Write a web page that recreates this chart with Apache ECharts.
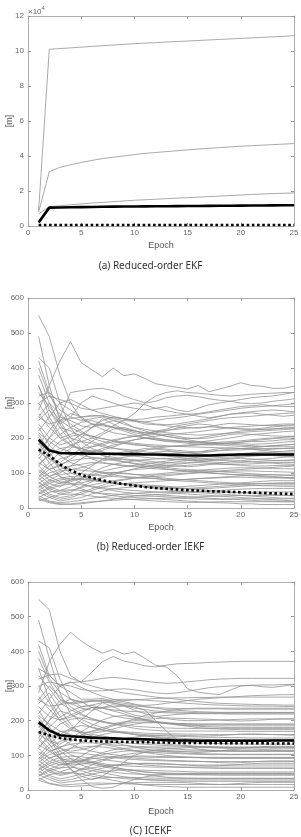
<!DOCTYPE html>
<html>
<head>
<meta charset="utf-8">
<title>Position error per epoch</title>
<script src="https://cdn.jsdelivr.net/npm/echarts@6/dist/echarts.min.js"></script>
<style>html,body{margin:0;padding:0;background:#fff;}</style>
</head>
<body>
<div id="main" style="width:301px;height:837px;"></div>
<script>
var epochs = [1,2,3,4,5,6,7,8,9,10,11,12,13,14,15,16,17,18,19,20,21,22,23,24,25];

// (a) reduced-order EKF, metres
var ekfRuns = [
  [9000,101000,101400,101800,102200,102600,103000,103400,103800,104200,104500,104800,105100,105400,105700,106000,106300,106600,106900,107200,107500,107800,108100,108400,108700],
  [8000,31000,33500,35000,36300,37500,38500,39300,40000,40800,41500,42000,42500,43000,43500,44000,44400,44800,45200,45600,45900,46200,46500,46800,47100],
  [7000,11000,11600,12100,12600,13100,13500,13900,14300,14700,15000,15300,15600,15900,16200,16500,16800,17100,17400,17700,18000,18300,18500,18700,18900]
];
var ekfMean = [2000,10500,10600,10700,10800,10900,11000,11050,11100,11150,11200,11250,11300,11350,11400,11450,11500,11550,11600,11650,11700,11750,11800,11850,11900];
var ekfMedian = [600,600,600,600,600,600,600,600,600,600,600,600,600,600,600,600,600,600,600,600,600,600,600,600,600];

// (b) reduced-order IEKF
var iekfRuns = [
  [550,490,380,300,255,240,235,230,225,220,215,218,222,225,228,230,232,230,228,226,225,224,226,228,230],
  [280,350,420,475,415,395,375,400,378,383,370,355,350,345,340,350,332,340,348,358,350,348,342,342,348],
  [490,350,250,200,170,160,150,145,140,138,135,132,130,128,130,132,135,138,140,142,140,138,136,135,135],
  [430,400,300,230,190,170,160,150,155,160,165,170,175,178,180,182,185,188,190,192,195,198,200,202,205],
  [420,330,260,330,335,340,342,335,320,310,300,305,315,320,322,318,312,308,305,310,315,318,320,325,330],
  [380,300,240,200,190,200,215,235,250,270,300,320,330,335,330,328,325,322,320,322,325,327,328,330,330],
  [350,280,240,260,300,320,310,300,290,285,280,285,290,280,275,285,295,300,305,300,298,300,305,308,312],
  [300,320,310,300,285,280,285,290,295,300,295,285,278,272,268,270,275,280,285,290,292,295,292,290,290],
  [260,240,250,255,260,265,262,258,255,252,255,260,262,265,268,262,258,262,268,272,275,278,280,278,275],
  [240,200,180,190,210,230,250,260,255,250,245,240,238,240,245,250,255,262,268,270,272,268,265,262,265],
  [220,260,300,310,295,280,270,262,255,248,240,238,235,232,230,228,232,238,242,240,238,236,235,236,238],
  [200,170,150,170,200,230,255,240,225,215,210,215,220,228,235,240,238,232,228,226,225,228,232,234,235],
  [180,220,260,250,235,230,240,250,245,230,220,212,205,200,198,200,205,210,215,220,222,225,226,228,228],
  [160,140,130,150,170,190,210,225,230,222,210,200,195,192,190,188,192,196,200,205,210,212,215,218,220],
  [150,200,250,270,260,240,225,215,210,205,200,195,190,188,185,182,180,182,185,188,192,195,198,200,200],
  [140,180,210,230,245,250,240,230,220,210,200,195,192,190,188,186,185,184,186,188,190,190,192,195,195],
  [130,110,120,140,160,175,185,195,200,205,208,210,205,200,195,190,188,186,185,184,182,183,185,188,190],
  [120,160,190,205,210,205,198,192,185,180,178,176,175,176,178,180,182,180,178,176,175,176,178,180,182],
  [110,90,100,120,140,160,170,180,185,182,178,172,168,165,162,160,165,170,172,170,168,166,168,170,172],
  [100,130,160,180,190,185,175,170,168,165,160,158,155,156,158,160,162,164,165,166,168,165,162,160,160],
  [95,70,60,80,100,120,140,155,160,165,170,168,165,160,158,155,152,150,152,155,158,160,158,156,155],
  [90,120,140,150,160,165,160,155,150,148,145,142,140,138,136,135,138,140,142,145,148,150,150,148,145],
  [85,60,50,60,80,100,115,125,130,135,138,140,142,140,138,135,132,130,128,130,132,134,135,136,138],
  [80,100,110,120,125,130,128,125,122,120,118,120,122,125,128,130,128,126,124,125,126,128,130,130,130],
  [75,50,40,45,60,75,90,100,105,110,112,115,118,120,122,124,126,125,124,122,120,120,121,122,122],
  [70,90,105,110,108,105,102,100,98,96,95,97,100,103,105,108,110,112,114,115,115,114,113,112,112],
  [65,40,30,35,45,55,65,75,80,85,88,90,92,95,98,100,102,104,105,106,106,105,104,103,102],
  [60,80,95,100,98,95,92,90,88,86,85,84,82,80,82,84,86,88,90,92,94,95,95,94,95],
  [55,35,25,30,40,50,60,65,70,72,74,76,78,80,82,84,85,86,88,88,87,86,86,86,86],
  [50,70,80,85,82,78,75,72,70,68,66,64,62,60,62,64,66,68,70,72,74,76,78,78,78],
  [45,30,20,25,30,40,48,55,58,60,62,62,60,58,56,55,56,58,60,62,64,65,66,66,66],
  [40,55,65,68,66,62,58,55,52,50,48,46,45,44,45,46,48,50,52,54,55,56,56,56,56],
  [35,20,15,18,22,28,32,36,40,42,44,45,46,48,48,47,46,45,44,44,45,46,46,46,46],
  [30,45,50,52,50,46,42,40,38,36,34,33,32,30,31,32,33,34,35,36,36,36,36,36,36],
  [25,15,10,12,15,18,20,22,24,25,26,27,28,28,27,26,25,25,26,26,26,26,26,26,26],
  [20,30,38,40,38,34,30,28,26,24,22,20,18,17,16,16,17,18,18,18,18,18,18,18,18],
  [300,250,200,180,170,175,180,190,200,205,210,220,225,235,240,245,250,255,258,260,262,265,268,270,272],
  [250,280,230,190,160,140,130,125,120,118,115,112,110,108,106,104,105,106,108,110,112,114,116,118,120],
  [230,180,150,130,120,110,100,95,90,88,86,84,80,78,76,74,72,70,68,66,65,64,63,62,62],
  [210,160,120,100,90,80,75,70,68,65,62,60,58,56,54,52,50,48,46,44,42,40,38,36,35],
  [190,150,110,90,70,60,55,50,45,42,40,38,36,34,32,30,28,26,25,24,22,20,20,18,18],
  [170,130,90,70,55,45,40,35,32,30,28,26,24,22,20,18,16,15,14,12,12,10,10,10,10],
  [320,330,300,280,260,262,265,255,250,248,246,250,255,258,262,268,272,276,280,285,288,290,292,295,298],
  [270,230,200,210,225,240,238,232,226,220,215,212,210,212,215,218,222,226,230,232,234,236,238,240,240],
  [400,320,280,260,250,255,260,250,240,230,225,220,215,212,210,208,210,212,214,216,218,220,222,224,226],
  [260,300,270,240,220,200,190,185,190,195,200,205,210,205,200,198,200,205,210,212,210,208,206,205,205],
  [215,190,170,160,150,145,142,140,145,150,155,160,162,160,158,156,160,165,168,170,172,175,178,180,182],
  [185,140,120,110,115,125,135,140,138,135,130,126,122,120,118,120,124,128,132,135,138,140,142,145,148],
  [165,200,230,220,205,190,180,172,165,160,155,150,148,145,142,140,138,136,135,134,132,130,128,126,125],
  [145,110,90,80,85,95,105,112,118,122,126,130,134,138,142,145,148,150,152,154,156,158,160,162,165],
  [125,150,170,175,170,160,150,140,132,126,120,116,112,108,105,102,100,98,96,95,94,92,90,88,86],
  [105,80,70,75,85,92,98,102,100,96,92,88,85,82,80,78,76,74,72,70,70,70,71,72,72],
  [88,110,125,135,140,142,140,136,132,128,124,120,116,112,110,108,106,104,102,100,98,96,95,94,92],
  [72,55,45,50,58,66,72,78,82,86,90,94,96,98,100,102,100,98,96,94,92,90,88,86,85],
  [58,75,85,90,88,84,78,72,68,64,60,58,56,55,56,58,60,62,64,66,68,70,70,70,70],
  [42,60,72,80,82,80,76,72,68,64,60,56,52,48,46,44,42,40,38,36,34,32,30,28,28],
  [28,18,12,10,12,16,20,25,30,34,36,38,40,42,40,38,36,34,32,30,28,26,24,22,20],
  [350,260,210,180,165,160,165,175,185,195,200,198,195,192,190,188,186,184,182,180,178,176,175,175,175],
  [330,290,250,230,215,205,198,192,188,185,182,180,178,176,175,174,173,172,171,170,170,170,170,170,170],
  [120,90,75,70,72,78,86,95,105,112,118,124,128,132,136,140,142,144,146,148,150,150,150,150,150]
];
var iekfMean = [195,164,157,156,156,155,155,155,154,154,153,153,152,151,150,150,150,151,152,153,153,153,153,153,153];
var iekfMedian = [167,150,125,108,95,86,79,73,68,64,60,57,55,53,51,50,48,47,46,45,44,43,42,41,40];

// (c) ICEKF
var icekfRuns = [
  [550,520,400,330,310,300,292,286,280,276,272,268,265,262,258,255,252,250,249,248,247,246,246,245,245],
  [280,370,420,455,430,410,395,405,392,398,380,360,355,330,292,282,278,275,288,300,302,298,296,300,304],
  [490,380,280,220,195,180,172,168,165,162,160,158,156,155,154,153,152,152,151,151,150,150,150,150,150],
  [430,410,320,262,240,245,252,256,258,260,262,264,265,266,266,267,267,268,268,268,268,268,268,268,268],
  [420,330,300,310,312,340,370,385,372,366,358,355,360,364,365,366,368,369,370,371,371,371,371,371,371],
  [380,312,262,248,252,256,258,260,262,261,259,257,255,252,250,248,246,245,244,243,242,242,242,241,241],
  [350,332,335,322,312,316,322,325,322,318,314,310,308,309,312,315,318,320,321,322,322,322,322,322,322],
  [300,312,305,300,290,286,286,290,292,289,284,280,278,280,285,290,295,298,300,301,302,303,303,304,305],
  [260,242,246,252,256,258,255,250,246,242,240,238,236,235,234,234,234,234,233,233,233,233,233,233,233],
  [240,212,202,216,230,238,236,231,228,226,225,224,223,222,221,220,220,220,219,219,219,219,219,219,219],
  [220,262,300,312,296,282,270,262,255,248,240,236,232,230,228,226,225,224,224,224,224,224,224,224,224],
  [200,172,152,172,202,228,252,240,226,216,210,212,215,218,220,221,222,222,222,223,223,223,223,223,223],
  [180,222,258,250,236,230,238,246,242,230,220,212,206,202,200,200,201,202,203,204,205,205,205,205,205],
  [160,142,132,150,168,186,202,212,215,210,204,198,194,192,191,190,190,190,190,190,190,190,190,190,190],
  [150,202,248,262,255,238,224,214,208,204,200,196,193,190,188,186,185,185,185,185,185,185,185,185,185],
  [140,182,210,228,240,244,236,228,220,210,202,196,192,188,186,184,182,181,180,180,180,180,180,180,180],
  [130,112,122,140,158,170,180,188,192,195,196,195,192,188,184,180,178,176,175,174,174,174,174,174,174],
  [120,162,190,204,208,202,196,190,184,178,174,172,170,170,170,170,170,170,170,169,169,169,169,169,169],
  [110,92,102,120,138,152,160,166,168,166,164,163,162,162,161,161,160,160,160,160,160,160,160,160,160],
  [100,132,160,178,186,182,174,168,164,160,156,154,152,150,148,147,146,146,145,145,145,145,145,145,145],
  [95,72,62,80,98,116,132,142,148,150,148,145,142,140,138,136,135,134,133,133,132,132,132,132,132],
  [90,122,140,150,158,160,156,150,146,142,138,135,132,130,128,126,125,124,123,122,122,122,121,121,121],
  [85,62,52,62,80,96,108,116,120,122,122,121,120,118,116,115,114,113,112,112,112,112,112,112,112],
  [80,102,112,120,124,126,124,120,116,112,110,108,106,105,104,103,102,102,102,102,102,102,102,102,102],
  [75,52,42,48,60,72,84,92,96,98,98,97,96,95,94,93,92,92,92,92,92,92,92,92,92],
  [70,92,104,108,106,102,98,94,90,88,86,85,84,83,82,82,82,82,82,82,82,82,82,82,82],
  [65,42,32,38,46,55,63,70,74,76,76,75,74,73,72,72,72,72,72,72,72,72,72,72,72],
  [60,82,94,98,96,92,88,84,80,76,72,70,68,66,65,64,63,62,62,62,62,62,62,62,62],
  [55,36,26,30,38,46,52,56,58,58,57,56,55,54,53,52,52,52,52,52,52,52,52,52,52],
  [50,70,80,84,82,78,72,66,60,56,52,49,47,46,45,44,44,43,43,43,43,43,43,43,43],
  [45,30,20,24,28,32,35,36,37,36,35,34,34,34,34,34,34,34,34,34,34,34,34,34,34],
  [40,55,64,66,62,56,50,44,38,34,30,28,27,26,25,25,25,25,25,25,25,25,25,25,25],
  [35,20,14,16,18,20,20,19,18,17,16,16,16,16,16,16,16,16,16,16,16,16,16,16,16],
  [30,44,50,50,46,40,34,28,22,18,14,12,10,9,8,8,8,8,8,8,8,8,8,8,8],
  [300,252,200,176,165,168,175,185,195,205,215,222,228,232,235,236,236,236,236,236,236,236,236,236,236],
  [250,280,232,190,162,145,135,130,128,126,125,124,124,124,124,124,124,124,124,124,124,124,124,124,124],
  [230,182,152,132,120,112,106,102,98,96,95,94,94,94,94,94,94,94,94,94,94,94,94,94,94],
  [210,162,122,102,90,82,76,72,70,68,67,66,66,66,66,66,66,66,66,66,66,66,66,66,66],
  [190,152,112,90,72,62,56,52,48,46,45,44,44,44,44,44,44,44,44,44,44,44,44,44,44],
  [170,132,92,70,56,46,40,36,33,31,30,29,29,29,29,29,29,29,29,29,29,29,29,29,29],
  [320,332,300,282,262,262,264,256,250,246,244,246,250,254,258,262,264,266,268,270,272,273,274,275,275],
  [270,232,202,210,224,238,238,240,242,240,230,200,170,145,125,118,115,114,114,113,113,113,113,113,113],
  [400,322,282,262,252,256,260,252,244,236,232,228,226,225,224,223,222,222,222,222,222,222,222,222,222],
  [150,120,90,60,30,10,5,8,20,30,38,42,45,46,47,48,48,48,48,48,48,48,48,48,48],
  [200,150,100,60,40,30,40,60,80,100,110,115,118,120,122,122,122,122,122,122,122,122,122,122,122],
  [260,300,270,240,220,205,196,192,196,200,204,206,208,207,206,205,204,202,200,199,200,202,204,205,205],
  [215,190,170,160,152,148,146,145,148,152,156,158,159,158,157,156,156,157,159,161,162,161,160,159,158],
  [185,140,120,112,116,124,132,136,136,134,132,130,128,127,126,125,123,121,120,121,123,125,126,126,126],
  [165,200,228,218,204,190,180,172,166,160,156,152,149,147,145,144,143,142,142,141,141,141,141,141,141],
  [145,112,92,82,86,94,102,108,112,114,115,115,114,112,110,108,110,113,116,118,118,117,116,115,115],
  [125,150,168,172,166,156,146,138,130,124,118,114,110,108,106,105,104,104,103,103,103,103,103,103,103],
  [105,82,72,76,84,90,94,96,94,92,90,88,86,85,84,83,81,79,78,79,81,83,84,84,84],
  [88,110,124,132,136,136,132,126,120,114,108,104,100,97,95,94,93,92,92,92,92,92,92,92,92],
  [72,56,46,50,58,64,68,72,74,76,77,77,76,74,72,70,69,70,72,74,76,77,77,77,77],
  [58,76,86,90,86,80,72,66,60,56,52,50,49,48,48,48,48,48,48,48,48,48,48,48,48],
  [42,60,72,78,78,74,68,62,56,50,44,40,37,35,34,33,33,33,33,33,33,33,33,33,33],
  [28,18,12,10,12,14,16,18,20,21,22,22,22,22,21,19,17,16,17,19,21,22,22,22,22],
  [350,262,212,182,168,164,168,176,184,190,194,194,193,192,191,190,190,190,190,190,190,190,190,190,190],
  [330,292,252,232,216,206,198,192,188,184,182,180,179,178,178,177,177,177,177,177,177,177,177,177,177],
  [120,92,78,72,74,80,88,96,102,106,108,110,111,112,112,112,112,112,112,112,112,112,112,112,112]
];
var icekfMean = [195,172,158,155,153,151,150,149,148,147,146,145,144,143,143,142,142,142,142,142,142,142,143,143,143];
var icekfMedian = [167,158,150,146,143,141,140,139,139,138,138,137,137,136,136,136,135,135,135,135,135,135,134,134,134];

var captions = ['(a) Reduced-order EKF', '(b) Reduced-order IEKF', '(C) ICEKF'];

var myChart = echarts.init(document.getElementById('main'));
var tickFont = 'Liberation Sans';
var axisGray = '#9a9a9a';

function pairs(vals) {
  return epochs.map(function (e, i) { return [e, vals[i]]; });
}

function grayRuns(runs, idx) {
  return runs.map(function (r) {
    return {
      type: 'line', xAxisIndex: idx, yAxisIndex: idx, data: pairs(r),
      showSymbol: false, silent: true, z: 2,
      lineStyle: { color: '#939393', width: 0.8 }
    };
  });
}

function blackLine(vals, idx, dotted) {
  return {
    type: 'line', xAxisIndex: idx, yAxisIndex: idx, data: pairs(vals),
    showSymbol: false, silent: true, z: 5,
    lineStyle: dotted ? { color: '#000', width: 2.6, type: [2.6, 2.6] } : { color: '#000', width: 2.6 }
  };
}

var grids = [
  { left: 28, right: 7, top: 16, height: 210, outerBoundsMode: 'none' },
  { left: 28, right: 7, top: 298, height: 210, outerBoundsMode: 'none' },
  { left: 28, right: 7, top: 582, height: 208, outerBoundsMode: 'none' }
];

var yMax = [120000, 600, 600];
var yStep = [20000, 100, 100];
var epochGap = [15, 15, 17];

var xAxes = [], yAxes = [];
[0, 1, 2].forEach(function (g) {
  xAxes.push({
    type: 'value', gridIndex: g, min: 0, max: 25, interval: 5,
    name: 'Epoch', nameLocation: 'middle', nameGap: epochGap[g], nameMoveOverlap: false,
    nameTextStyle: { color: '#555', fontSize: 9, fontFamily: tickFont },
    axisLine: { onZero: false, lineStyle: { color: axisGray, width: 0.8 } },
    axisTick: { inside: true, length: 3, lineStyle: { color: axisGray } },
    axisLabel: { color: '#666', fontSize: 8, fontFamily: tickFont, margin: 3 },
    splitLine: { show: false }
  });
  yAxes.push({
    type: 'value', gridIndex: g, min: 0, max: yMax[g], interval: yStep[g],
    name: '[m]', nameLocation: 'middle', nameGap: 14, nameMoveOverlap: false,
    nameTextStyle: { color: '#555', fontSize: 9, fontFamily: tickFont },
    axisLine: { show: true, onZero: false, lineStyle: { color: axisGray, width: 0.8 } },
    axisTick: { show: true, inside: true, length: 3, lineStyle: { color: axisGray } },
    axisLabel: {
      color: '#666', fontSize: 8, fontFamily: tickFont, margin: 4,
      formatter: g === 0 ? function (v) { return v / 10000; } : null
    },
    splitLine: { show: false }
  });
});
// mirrored top / right axes for the box with ticks
[0, 1, 2].forEach(function (g) {
  xAxes.push({
    type: 'value', gridIndex: g, min: 0, max: 25, interval: 5, position: 'top',
    axisLine: { onZero: false, lineStyle: { color: axisGray, width: 0.8 } },
    axisTick: { inside: true, length: 3, lineStyle: { color: axisGray } },
    axisLabel: { show: false }, splitLine: { show: false }
  });
  yAxes.push({
    type: 'value', gridIndex: g, min: 0, max: yMax[g], interval: yStep[g], position: 'right',
    axisLine: { show: true, onZero: false, lineStyle: { color: axisGray, width: 0.8 } },
    axisTick: { show: true, inside: true, length: 3, lineStyle: { color: axisGray } },
    axisLabel: { show: false }, splitLine: { show: false }
  });
});

var series = [].concat(
  grayRuns(ekfRuns, 0), [blackLine(ekfMean, 0, false), blackLine(ekfMedian, 0, true)],
  grayRuns(iekfRuns, 1), [blackLine(iekfMean, 1, false), blackLine(iekfMedian, 1, true)],
  grayRuns(icekfRuns, 2), [blackLine(icekfMean, 2, false), blackLine(icekfMedian, 2, true)]
);

var captionY = [268, 549, 833];
var graphics = captions.map(function (t, i) {
  return {
    type: 'text', left: 'center', top: captionY[i] - 7,
    style: { text: t, fill: '#333', font: '10px "Noto Sans"' }
  };
});
graphics.push({
  type: 'text', left: 28, top: 5,
  style: {
    text: '{a|×10}{b|4}',
    rich: {
      a: { fontSize: 8, fill: '#666', fontFamily: tickFont, padding: [3, 0, 0, 0] },
      b: { fontSize: 6, fill: '#666', fontFamily: tickFont, verticalAlign: 'top' }
    }
  }
});

myChart.setOption({
  animation: false,
  backgroundColor: '#fff',
  grid: grids,
  xAxis: xAxes,
  yAxis: yAxes,
  graphic: graphics,
  series: series
});
</script>
</body>
</html>
